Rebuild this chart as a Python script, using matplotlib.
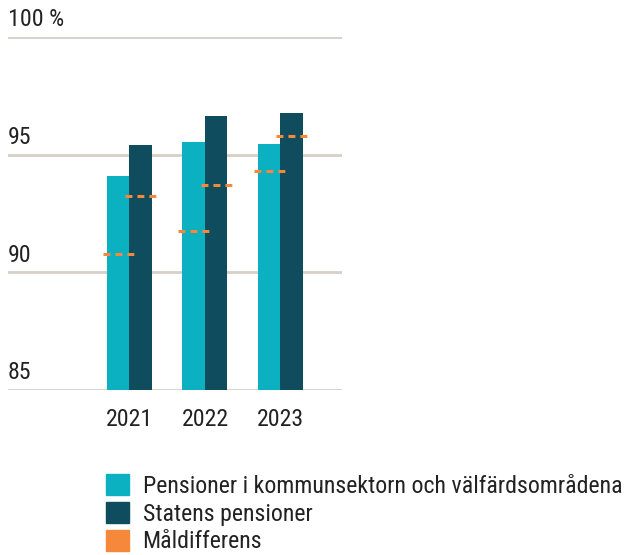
import numpy as np
import matplotlib
matplotlib.use('Agg')
import matplotlib.pyplot as plt
from matplotlib.patches import Patch
from matplotlib.transforms import blended_transform_factory

plt.rcParams['font.family'] = ['Roboto Condensed', 'Roboto', 'DejaVu Sans']
plt.rcParams['lines.scale_dashes'] = False

years = ['2021', '2022', '2023']
kommun = [94.1, 95.55, 95.45]
staten = [95.4, 96.65, 96.75]
mal_kommun = [90.8, 91.75, 94.3]
mal_staten = [93.25, 93.7, 95.8]
yticks = [85, 90, 95, 100]
ytick_labels = ['85', '90', '95', '100 %']
legend_labels = ['Pensioner i kommunsektorn och välfärdsområdena',
                 'Statens pensioner', 'Måldifferens']

c_kommun = '#0bb0c1'
c_staten = '#0f4c5d'
c_orange = '#f5883a'
c_grid = '#d6d0c6'
c_text = '#222222'
fs = 17.2

fig = plt.figure(figsize=(6.3, 5.55), dpi=100)
ax = fig.add_axes([8 / 630, 164.7 / 555, 334 / 630, 353.6 / 555])

x = np.arange(len(years))
w = 0.298
ax.bar(x - w / 2, [v - 85 for v in kommun], w, bottom=85, color=c_kommun, zorder=2)
ax.bar(x + w / 2, [v - 85 for v in staten], w, bottom=85, color=c_staten, zorder=2)

dw = 0.41
for i in range(len(years)):
    ax.plot([x[i] - w / 2 - dw / 2, x[i] - w / 2 + dw / 2], [mal_kommun[i]] * 2,
            color=c_orange, lw=2.2, dashes=(5.0, 3.6), zorder=3, dash_capstyle='butt')
    ax.plot([x[i] + w / 2 - dw / 2, x[i] + w / 2 + dw / 2], [mal_staten[i]] * 2,
            color=c_orange, lw=2.2, dashes=(5.0, 3.6), zorder=3, dash_capstyle='butt')

for t in yticks:
    ax.axhline(t, color=c_grid, lw=2.0, zorder=1)

trans = blended_transform_factory(ax.transAxes, ax.transData)
for t, lab in zip(yticks, ytick_labels):
    ax.text(0, t + 0.25, lab, transform=trans, ha='left', va='bottom',
            fontsize=fs, color=c_text)

ax.set_xlim(-1.609, 2.815)
ax.set_ylim(85, 100)
ax.set_yticks([])
ax.set_xticks(x)
ax.set_xticklabels(years, fontsize=fs, color=c_text)
ax.tick_params(axis='x', length=0, pad=13)
for s in ax.spines.values():
    s.set_visible(False)

handles = [Patch(color=c_kommun), Patch(color=c_staten), Patch(color=c_orange)]
fig.legend(handles, legend_labels, loc='upper left', bbox_to_anchor=(106 / 630, 1 - 474 / 555),
           frameon=False, fontsize=fs, handlelength=0.98, handleheight=0.98,
           handletextpad=0.55, labelspacing=0.17, borderaxespad=0, borderpad=0,
           labelcolor=c_text)

fig.savefig('out.png', dpi=100)
